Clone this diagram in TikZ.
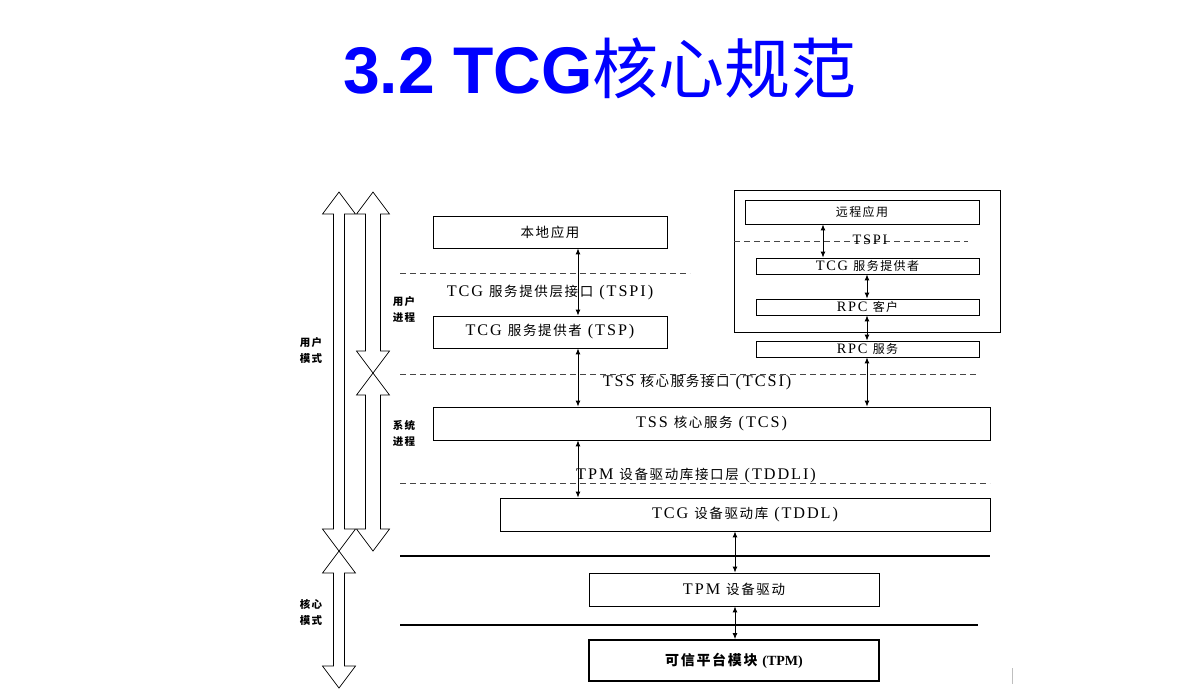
\documentclass[tikz,border=0pt]{standalone}
\usepackage{fontspec}
\usetikzlibrary{arrows.meta}
\newfontfamily\cjk{Noto Sans CJK SC}[LetterSpace=12]
\newfontfamily\cjkt{Noto Sans CJK SC}
\newfontfamily\latf{Liberation Serif}[Scale=1.2,LetterSpace=12]
\newfontfamily\titlef{Liberation Sans}
\newfontfamily\serf{Liberation Serif}
\definecolor{titleblue}{RGB}{0,0,255}
\definecolor{dashgray}{RGB}{70,70,70}
\newcommand\hollowarrow[5]{%
  \draw[bigarrow] (#1,#2) -- (#1+#5,#2+22) -- (#1+#4,#2+22) -- (#1+#4,#3-22)
    -- (#1+#5,#3-22) -- (#1,#3) -- (#1-#5,#3-22) -- (#1-#4,#3-22)
    -- (#1-#4,#2+22) -- (#1-#5,#2+22) -- cycle;}
\begin{document}
\begin{tikzpicture}[x=1pt,y=-1pt,
  box/.style={draw,line width=0.8pt,inner sep=0pt,fill=white,
    font=\cjk\fontsize{13.5}{16}\selectfont},
  sbox/.style={draw,line width=0.8pt,inner sep=0pt,fill=white,
    font=\cjk\fontsize{12}{14}\selectfont},
  lab/.style={inner sep=1pt,font=\cjk\fontsize{13.5}{16}\selectfont},
  slab/.style={inner sep=1pt,font=\cjk\fontsize{12}{14}\selectfont},
  sidelab/.style={align=center,inner sep=0pt,
    font=\cjk\bfseries\fontsize{10.5}{16}\selectfont},
  dar/.style={{Latex[length=6pt,width=5pt]}-{Latex[length=6pt,width=5pt]},line width=0.9pt},
  dline/.style={dashgray,dash pattern=on 6pt off 4pt,line width=1pt},
  sline/.style={black,line width=2pt},
  bigarrow/.style={black,line width=0.7pt,line join=miter}]
\useasboundingbox (0,0) rectangle (1200,697);
\fill[white] (0,0) rectangle (1200,697);

% title
\node[text=titleblue,inner sep=0pt] (title) at (600,68)
  {\titlef\bfseries\fontsize{66}{70}\selectfont 3.2 TCG{\cjkt\mdseries 核心规范}};

% big hollow arrows
\hollowarrow{339}{192}{551}{5.5}{16.5}
\hollowarrow{373}{192}{373}{7.5}{16.5}
\hollowarrow{373}{373}{551}{7.5}{16.5}
\hollowarrow{339}{551}{688}{5.5}{16.5}

% side labels
\node[sidelab] (umode) at (311,350) {用户\\模式};
\node[sidelab] (kmode) at (311,612) {核心\\模式};
\node[sidelab] (uproc) at (404,309) {用户\\进程};
\node[sidelab] (sproc) at (404,433) {系统\\进程};

% separators
\draw[dline] (400,273) -- (690,273);
\draw[dline] (400,374) -- (978,374);
\draw[dline] (400,483) -- (990,483);
\draw[sline] (400,556) -- (990,556);
\draw[sline] (400,625) -- (978,625);

% remote client frame
\node[draw,line width=0.8pt,minimum width=266pt,minimum height=142pt,inner sep=0pt] (client) at (867,261) {};
\draw[dline] (734,241) -- (968,241);

% boxes
\node[box,minimum width=234pt,minimum height=32pt] (local) at (550,232) {本地应用};
\node[box,minimum width=234pt,minimum height=32pt] (tsp) at (550,332) {{\latf TCG\ }服务提供者{\latf\ (TSP)}};
\node[sbox,minimum width=234pt,minimum height=24pt] (remapp) at (862,212) {远程应用};
\node[sbox,minimum width=223pt,minimum height=16pt] (rtsp) at (867.5,266) {{\latf TCG\ }服务提供者};
\node[sbox,minimum width=223pt,minimum height=16pt] (rpcc) at (867.5,307) {{\latf RPC\ }客户};
\node[sbox,minimum width=223pt,minimum height=16pt] (rpcs) at (867.5,349) {{\latf RPC\ }服务};
\node[box,minimum width=557pt,minimum height=33pt] (tcs) at (711.5,423.5) {{\latf TSS\ }核心服务{\latf\ (TCS)}};
\node[box,minimum width=490pt,minimum height=33pt] (tddl) at (745,514.5) {{\latf TCG\ }设备驱动库{\latf\ (TDDL)}};
\node[box,minimum width=290pt,minimum height=33pt] (tpmdd) at (734,589.5) {{\latf TPM\ }设备驱动};
\node[box,line width=1.8pt,minimum width=290pt,minimum height=41pt,
  font=\cjk\bfseries\fontsize{14}{16}\selectfont] (tpm) at (734,660.5) {可信平台模块 {\serf\bfseries (TPM)}};

% interface labels
\node[lab] (tspi) at (550,293) {{\latf TCG\ }服务提供层接口{\latf\ (TSPI)}};
\node[lab] (tcsi) at (697,383) {{\latf TSS\ }核心服务接口{\latf\ (TCSI)}};
\node[lab] (tddli) at (696,476) {{\latf TPM\ }设备驱动库接口层{\latf\ (TDDLI)}};
\node[slab] (rtspi) at (870,240) {\latf TSPI};

% connector x positions
\coordinate (xa) at (578,0);
\coordinate (xb) at (823,0);
\coordinate (xc) at (867,0);
\coordinate (xd) at (735,0);

% connectors
\draw[dar] (local.south -| xa) -- (tsp.north -| xa);
\draw[dar] (tsp.south -| xa) -- (tcs.north -| xa);
\draw[dar] (tcs.south -| xa) -- (tddl.north -| xa);
\draw[dar] (remapp.south -| xb) -- (rtsp.north -| xb);
\draw[dar] (rtsp.south -| xc) -- (rpcc.north -| xc);
\draw[dar] (rpcc.south -| xc) -- (rpcs.north -| xc);
\draw[dar] (rpcs.south -| xc) -- (tcs.north -| xc);
\draw[dar] (tddl.south -| xd) -- (tpmdd.north -| xd);
\draw[dar] (tpmdd.south -| xd) -- (tpm.north -| xd);

% small mark
\draw[gray!50,line width=0.8pt] (1012,668) -- (1012,684);
\end{tikzpicture}
\end{document}
